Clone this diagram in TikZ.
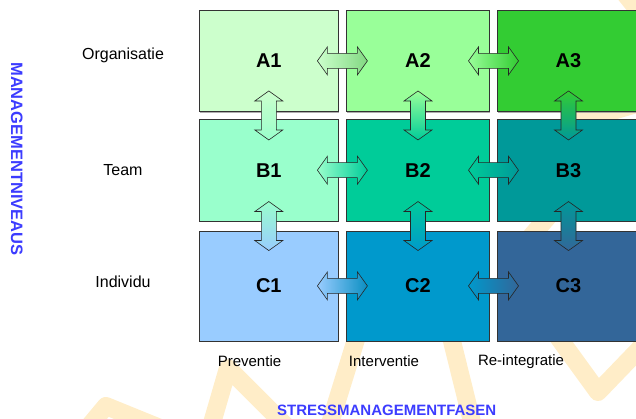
\documentclass[tikz,border=0pt]{standalone}
\usepackage{fontspec}
\setmainfont{Liberation Sans}
\usetikzlibrary{calc,shadows}
\definecolor{cA1}{HTML}{CCFFCC}
\definecolor{cA2}{HTML}{99FF99}
\definecolor{cA3}{HTML}{33CC33}
\definecolor{cB1}{HTML}{99FFCC}
\definecolor{cB2}{HTML}{00CC99}
\definecolor{cB3}{HTML}{009999}
\definecolor{cC1}{HTML}{99CCFF}
\definecolor{cC2}{HTML}{0099CC}
\definecolor{cC3}{HTML}{336699}
\definecolor{wm}{RGB}{255,237,200}
\definecolor{titleblue}{RGB}{60,60,255}
\tikzset{
  cell/.style={draw=black!80, line width=0.7pt, inner sep=0pt,
    font=\bfseries\fontsize{20}{24}\selectfont,
    drop shadow={shadow xshift=0.8pt, shadow yshift=-1pt, fill=black!45, opacity=0.7}},
  colA/.style={minimum width=139pt},
  colB/.style={minimum width=143pt},
  colC/.style={minimum width=142pt},
  rowA/.style={minimum height=101.7pt},
  rowB/.style={minimum height=102pt},
  rowC/.style={minimum height=110pt},
  rowlab/.style={font=\fontsize{16}{19}\selectfont, inner sep=0pt},
  collab/.style={font=\fontsize{15}{18}\selectfont, inner sep=0pt},
  axistitle/.style={font=\bfseries\fontsize{15}{18}\selectfont, text=titleblue, inner sep=0pt},
  wmstroke/.style={draw=wm, line width=18pt, line join=round, line cap=round},
  harrow/.pic={\path[pic actions, draw=black!85, line width=0.6pt]
     (-25,0) -- (-15,-14) -- (-15,-7.5) -- (15,-7.5) -- (15,-14) -- (25,0)
     -- (15,14) -- (15,7.5) -- (-15,7.5) -- (-15,14) -- cycle;},
  varrow/.pic={\path[pic actions, draw=black!85, line width=0.6pt]
     (0,-24.5) -- (14,-14.5) -- (7.5,-14.5) -- (7.5,14.5) -- (14,14.5) -- (0,24.5)
     -- (-14,14.5) -- (-7.5,14.5) -- (-7.5,-14.5) -- (-14,-14.5) -- cycle;}
}
\begin{document}
\begin{tikzpicture}[x=1pt,y=-1pt]
\useasboundingbox (0,0) rectangle (636,419);
\clip (0,0) rectangle (636,419);
% background watermark strokes
\path[wmstroke] (86,430) -- (106,406) -- (165,430);
\path[wmstroke] (210,430) -- (228,368) -- (290,430);
\path[wmstroke] (328,430) -- (362,320);
\path[wmstroke] (448,325) -- (474,430);
\path[wmstroke] (553,330) -- (598,392) -- (650,338);
\path[wmstroke] (622,-10) -- (650,25);
\path[wmstroke] (575,122) -- (650,100);
\path[wmstroke] (528,240) -- (552,212);
% cells
\node[cell, colA, rowA, fill=cA1] (A1) at (268.8,60.9) {A1};
\node[cell, colB, rowA, fill=cA2] (A2) at (418,60.9) {A2};
\node[cell, colC, rowA, fill=cA3] (A3) at (568.5,60.9) {A3};
\node[cell, colA, rowB, fill=cB1] (B1) at (268.8,170.2) {B1};
\node[cell, colB, rowB, fill=cB2] (B2) at (418,170.2) {B2};
\node[cell, colC, rowB, fill=cB3] (B3) at (568.5,170.2) {B3};
\node[cell, colA, rowC, fill=cC1] (C1) at (268.8,285.9) {C1};
\node[cell, colB, rowC, fill=cC2] (C2) at (418,285.9) {C2};
\node[cell, colC, rowC, fill=cC3] (C3) at (568.5,285.9) {C3};
% horizontal arrows
\pic[left color=cA1, right color=cA2!85!black] at ($(A1.east)!0.5!(A2.west)$) {harrow};
\pic[left color=cA2, right color=cA3] at ($(A2.east)!0.5!(A3.west)$) {harrow};
\pic[left color=cB1, right color=cB2] at ($(B1.east)!0.5!(B2.west)$) {harrow};
\pic[left color=cB2, right color=cB3] at ($(B2.east)!0.5!(B3.west)$) {harrow};
\pic[left color=cC1, right color=cC2!80!cC3] at ($(C1.east)!0.5!(C2.west)$) {harrow};
\pic[left color=cC2, right color=cC3] at ($(C2.east)!0.5!(C3.west)$) {harrow};
% vertical arrows
\pic[top color=cA1, bottom color=cB1] at ($(A1.south)!0.5!(B1.north)$) {varrow};
\pic[top color=cA2, bottom color=cB2] at ($(A2.south)!0.5!(B2.north)$) {varrow};
\pic[top color=cA3, bottom color=cB3] at ($(A3.south)!0.5!(B3.north)$) {varrow};
\pic[top color=cB1, bottom color=cC1] at ($(B1.south)!0.5!(C1.north)$) {varrow};
\pic[top color=cB2, bottom color=cC2] at ($(B2.south)!0.5!(C2.north)$) {varrow};
\pic[top color=cB3, bottom color=cC3] at ($(B3.south)!0.5!(C3.north)$) {varrow};
% row labels
\node[rowlab] (org) at (123,55) {Organisatie};
\node[rowlab] (team) at (123,170) {Team};
\node[rowlab] (ind) at (123,282) {Individu};
% column labels
\node[collab] (prev) at (249.5,361.5) {Preventie};
\node[collab] (inter) at (384,361.5) {Interventie};
\node[collab] (reint) at (521,361.5) {Re-integratie};
% axis titles
\node[axistitle, font=\bfseries\fontsize{16.5}{19}\selectfont, rotate=-90] (mn) at (16.7,159) {MANAGEMENTNIVEAUS};
\node[axistitle] (sf) at (386.7,410) {STRESSMANAGEMENTFASEN};
\end{tikzpicture}
\end{document}
